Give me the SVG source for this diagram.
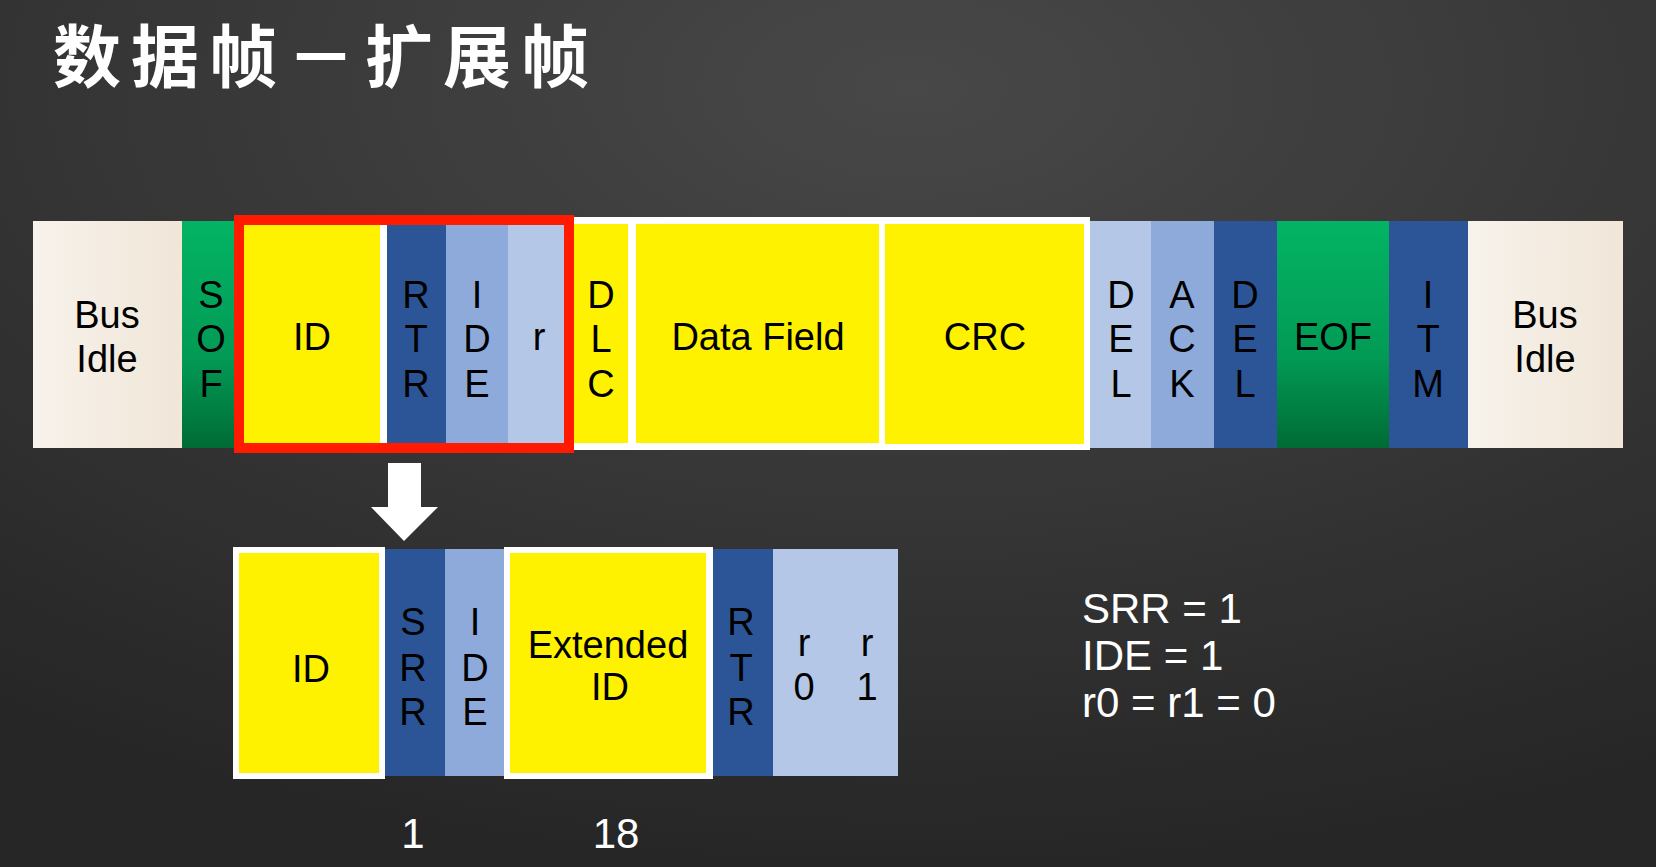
<svg xmlns="http://www.w3.org/2000/svg" width="1656" height="867" viewBox="0 0 1656 867">
<defs>
<radialGradient id="bg" cx="0.55" cy="0.1" r="0.9"><stop offset="0" stop-color="#484848"/><stop offset="1" stop-color="#262626"/></radialGradient>
<linearGradient id="grn" x1="0" y1="0" x2="0" y2="1"><stop offset="0" stop-color="#03B464"/><stop offset="0.6" stop-color="#029A55"/><stop offset="1" stop-color="#006B35"/></linearGradient>
<linearGradient id="cream" x1="0" y1="0" x2="1" y2="0"><stop offset="0" stop-color="#F7F2EB"/><stop offset="1" stop-color="#F1E6D8"/></linearGradient>
<style>
.t{font-family:"Liberation Sans","DejaVu Sans",sans-serif;font-size:38px;fill:#000;text-anchor:middle}
.w{font-family:"Liberation Sans","DejaVu Sans",sans-serif;font-size:42px;fill:#fff}
.y{fill:#FFF200}.d{fill:#2B5597}.m{fill:#8EAADB}.l{fill:#B4C7E7}.g{fill:url(#grn)}.c{fill:url(#cream)}
.wb{fill:#fff}
</style>
</defs>
<rect width="1656" height="867" fill="url(#bg)"/>
<text x="53" y="82" font-family="'Noto Sans CJK SC',sans-serif" font-weight="bold" font-size="68" fill="#fff" letter-spacing="10">数据帧－扩展帧</text>

<g id="busidle1"><rect class="c" x="33" y="221" width="149" height="227"/><text class="t" x="107" y="328">Bus</text><text class="t" x="107" y="372">Idle</text></g>
<g id="sof"><rect class="g" x="182" y="221" width="52" height="227"/><text class="t" x="211" y="308">S</text><text class="t" x="211" y="352">O</text><text class="t" x="211" y="397">F</text></g>
<g id="dlc"><rect class="wb" x="574" y="217" width="62" height="233"/><rect class="y" x="574" y="224" width="54" height="219"/><text class="t" x="601" y="308">D</text><text class="t" x="601" y="352">L</text><text class="t" x="601" y="397">C</text></g>
<g id="datafield"><rect class="wb" x="628" y="217" width="257" height="233"/><rect class="y" x="636" y="224" width="243" height="219"/><text class="t" x="758" y="350">Data Field</text></g>
<g id="crc"><rect class="wb" x="879" y="217" width="211" height="233"/><rect class="y" x="885" y="224" width="199" height="220"/><text class="t" x="985" y="350">CRC</text></g>
<g id="del1"><rect class="l" x="1090" y="221" width="61" height="227"/><text class="t" x="1121" y="308">D</text><text class="t" x="1121" y="352">E</text><text class="t" x="1121" y="397">L</text></g>
<g id="ack"><rect class="m" x="1151" y="221" width="63" height="227"/><text class="t" x="1182" y="308">A</text><text class="t" x="1182" y="352">C</text><text class="t" x="1182" y="397">K</text></g>
<g id="del2"><rect class="d" x="1214" y="221" width="63" height="227"/><text class="t" x="1245" y="308">D</text><text class="t" x="1245" y="352">E</text><text class="t" x="1245" y="397">L</text></g>
<g id="eof"><rect class="g" x="1277" y="221" width="112" height="227"/><text class="t" x="1333" y="350">EOF</text></g>
<g id="itm"><rect class="d" x="1389" y="221" width="79" height="227"/><text class="t" x="1428" y="308">I</text><text class="t" x="1428" y="352">T</text><text class="t" x="1428" y="397">M</text></g>
<g id="busidle2"><rect class="c" x="1468" y="221" width="155" height="227"/><text class="t" x="1545" y="328">Bus</text><text class="t" x="1545" y="372">Idle</text></g>

<g id="id"><rect class="wb" x="234" y="221" width="153" height="227"/><rect class="y" x="240" y="224" width="140" height="219"/><text class="t" x="312" y="350">ID</text></g>
<g id="rtr"><rect class="d" x="387" y="221" width="59" height="227"/><text class="t" x="416" y="308">R</text><text class="t" x="416" y="352">T</text><text class="t" x="416" y="397">R</text></g>
<g id="ide"><rect class="m" x="446" y="221" width="62" height="227"/><text class="t" x="477" y="308">I</text><text class="t" x="477" y="352">D</text><text class="t" x="477" y="397">E</text></g>
<g id="r"><rect class="l" x="508" y="221" width="60" height="227"/><text class="t" x="539" y="350">r</text></g>
<g id="highlight"><rect x="239" y="220" width="330" height="228" fill="none" stroke="#FF1A00" stroke-width="10"/></g>

<g id="connectors"><polygon points="388,463 421,463 421,507 438,507 404,541 371,507 388,507" fill="#fff"/></g>

<g id="ext-id"><rect class="wb" x="233" y="547" width="152" height="232"/><rect class="y" x="239" y="553" width="140" height="220"/><text class="t" x="311" y="682">ID</text></g>
<g id="srr"><rect class="d" x="385" y="549" width="60" height="227"/><text class="t" x="413" y="635">S</text><text class="t" x="413" y="681">R</text><text class="t" x="413" y="725">R</text></g>
<g id="ext-ide"><rect class="m" x="445" y="549" width="59" height="227"/><text class="t" x="475" y="635">I</text><text class="t" x="475" y="681">D</text><text class="t" x="475" y="725">E</text></g>
<g id="extended"><rect class="wb" x="504" y="547" width="209" height="232"/><rect class="y" x="510" y="553" width="196" height="220"/><text class="t" x="608" y="658">Extended</text><text class="t" x="610" y="700">ID</text></g>
<g id="ext-rtr"><rect class="d" x="713" y="549" width="60" height="227"/><text class="t" x="741" y="635">R</text><text class="t" x="741" y="681">T</text><text class="t" x="741" y="725">R</text></g>
<g id="r0r1"><rect class="l" x="773" y="549" width="125" height="227"/><text class="t" x="804" y="656">r</text><text class="t" x="867" y="656">r</text><text class="t" x="804" y="700">0</text><text class="t" x="867" y="700">1</text></g>

<text class="w" x="413" y="848" text-anchor="middle">1</text>
<text class="w" x="616" y="848" text-anchor="middle">18</text>
<text class="w" x="1082" y="623">SRR  =  1</text>
<text class="w" x="1082" y="670">IDE  =  1</text>
<text class="w" x="1082" y="717">r0  =  r1  =  0</text>
</svg>
